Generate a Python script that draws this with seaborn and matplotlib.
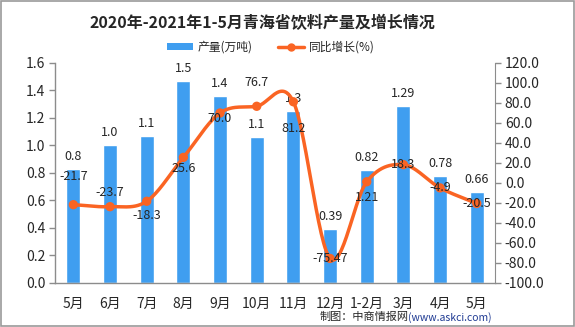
import numpy as np
import pandas as pd
import matplotlib
matplotlib.use("Agg")
import matplotlib.pyplot as plt
import seaborn as sns
from matplotlib.patches import Patch, Rectangle
from matplotlib.lines import Line2D

categories = ["5月", "6月", "7月", "8月", "9月", "10月", "11月", "12月", "1-2月", "3月", "4月", "5月"]
output_values = [0.83, 1.00, 1.07, 1.47, 1.36, 1.06, 1.25, 0.39, 0.82, 1.29, 0.78, 0.66]
output_labels = ["0.8", "1.0", "1.1", "1.5", "1.4", "1.1", "1.3", "0.39", "0.82", "1.29", "0.78", "0.66"]
growth_values = [-21.7, -23.7, -18.3, 25.6, 70.0, 76.7, 81.2, -75.47, 1.21, 18.3, -4.9, -20.5]
growth_labels = ["-21.7", "-23.7", "-18.3", "25.6", "70.0", "76.7", "81.2", "-75.47", "1.21", "18.3", "-4.9", "-20.5"]
# label vertical offsets in points (positive = above)
growth_label_offsets = [20, 10, -10, -8, -4, 17, -19, 0, -11, 0, 0, 0]

left_ticks = [0.0, 0.2, 0.4, 0.6, 0.8, 1.0, 1.2, 1.4, 1.6]
right_ticks = [-100, -80, -60, -40, -20, 0, 20, 40, 60, 80, 100, 120]

sns.set_style("white")
plt.rcParams['font.family'] = ['Noto Sans CJK SC', 'DejaVu Sans']
plt.rcParams['axes.unicode_minus'] = False

BLUE = "#3F9EF0"
ORANGE = "#FA6423"
GRAY = "#8C8C8C"

fig = plt.figure(figsize=(5.75, 3.27), dpi=100)
ax = fig.add_axes([0.0957, 0.1346, 0.7653, 0.6728])

df = pd.DataFrame({"cat": categories, "idx": range(len(categories)), "val": output_values})
sns.barplot(data=df, x="idx", y="val", color=BLUE, width=0.38, ax=ax, saturation=1)
ax.set_xlim(-0.5, len(categories) - 0.5)
ax.set_ylim(0, 1.6)
ax.set_yticks(left_ticks)
ax.set_yticklabels([f"{t:.1f}" for t in left_ticks], fontsize=10)
ax.set_xticks(range(len(categories)))
ax.set_xticklabels(categories, fontsize=10)
ax.set_xticks(np.arange(-0.5, len(categories)), minor=True)
ax.tick_params(axis="x", which="major", length=0, pad=10)
ax.tick_params(axis="x", which="minor", length=4, color=GRAY, width=1)
ax.tick_params(axis="y", length=4, color=GRAY, width=1, pad=3, left=True)
ax.set_xlabel("")
ax.set_ylabel("")
for s in ["top", "right"]:
    ax.spines[s].set_visible(False)
for s in ["left", "bottom"]:
    ax.spines[s].set_color(GRAY)
    ax.spines[s].set_linewidth(1)

for i, (v, lab) in enumerate(zip(output_values, output_labels)):
    ax.annotate(lab, (i, v), xytext=(0, 9), textcoords="offset points",
                ha="center", va="center", fontsize=9)

ax2 = ax.twinx()
ax2.set_ylim(-100, 120)
ax2.set_yticks(right_ticks)
ax2.set_yticklabels([f"{t:.1f}" for t in right_ticks], fontsize=10)
ax2.tick_params(axis="y", length=4, color=GRAY, width=1, pad=3, right=True)
for s in ["top", "left", "bottom"]:
    ax2.spines[s].set_visible(False)
ax2.spines["right"].set_color(GRAY)

# smooth curve through the points (Catmull-Rom)
x = np.arange(len(growth_values), dtype=float)
y = np.array(growth_values, dtype=float)
px = np.concatenate([[2 * x[0] - x[1]], x, [2 * x[-1] - x[-2]]])
py = np.concatenate([[2 * y[0] - y[1]], y, [2 * y[-1] - y[-2]]])
sx, sy = [], []
t = np.linspace(0, 1, 30)
for i in range(1, len(px) - 2):
    p0, p1, p2, p3 = px[i-1], px[i], px[i+1], px[i+2]
    q0, q1, q2, q3 = py[i-1], py[i], py[i+1], py[i+2]
    cx = 0.5 * ((2*p1) + (-p0 + p2)*t + (2*p0 - 5*p1 + 4*p2 - p3)*t**2 + (-p0 + 3*p1 - 3*p2 + p3)*t**3)
    cy = 0.5 * ((2*q1) + (-q0 + q2)*t + (2*q0 - 5*q1 + 4*q2 - q3)*t**2 + (-q0 + 3*q1 - 3*q2 + q3)*t**3)
    sx.extend(cx); sy.extend(cy)
ax2.plot(sx, sy, color=ORANGE, lw=2.5, solid_capstyle="round", zorder=3)
sns.scatterplot(x=x, y=y, color=ORANGE, s=45, edgecolor="none", ax=ax2, zorder=4)

for i, (v, lab, off) in enumerate(zip(growth_values, growth_labels, growth_label_offsets)):
    ax2.annotate(lab, (i, v), xytext=(0, off), textcoords="offset points",
                 ha="center", va="center", fontsize=9, zorder=5)

fig.text(0.456, 0.93, "2020年-2021年1-5月青海省饮料产量及增长情况", ha="center", va="center",
         fontsize=11.5, fontweight="bold")

handles = [Patch(facecolor=BLUE, edgecolor="none"),
           Line2D([0], [0], color=ORANGE, lw=2.5, marker="o", markersize=5)]
fig.legend(handles, ["产量(万吨)", "同比增长(%)"], loc="center", bbox_to_anchor=(0.471, 0.856),
           ncol=2, frameon=False, fontsize=8.5, handlelength=2.2, handleheight=0.6,
           columnspacing=2.2, handletextpad=0.4)

fig.text(0.71, 0.03, "制图：中商情报网", ha="right", va="center", fontsize=8)
fig.text(0.71, 0.03, "(www.askci.com)", ha="left", va="center", fontsize=7.5, color="#1F3A93")

fig.add_artist(Rectangle((0.001, 0.002), 0.997, 0.995, transform=fig.transFigure,
                         fill=False, edgecolor="#9A9A9A", lw=1.2))

fig.savefig("out.png", dpi=100)
